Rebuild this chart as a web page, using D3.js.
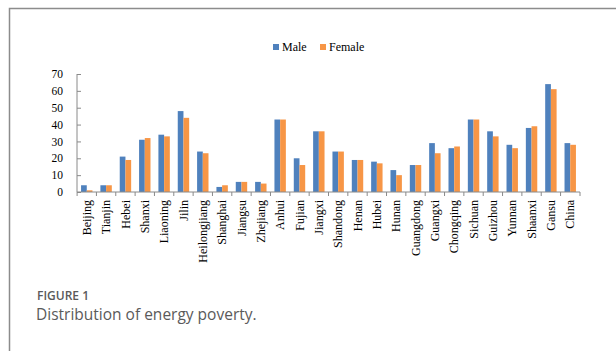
<!DOCTYPE html>
<html>
<head>
<meta charset="utf-8">
<script src="https://cdn.jsdelivr.net/npm/d3@7"></script>
<style>
  html, body { margin: 0; padding: 0; background: #fff; }
  svg { display: block; }
</style>
</head>
<body>
<svg id="chart" width="616" height="351"></svg>
<script>
// Energy poverty by province, split by sex
const provinces = ["Beijing","Tianjin","Hebei","Shanxi","Liaoning","Jilin","Heilongjiang","Shanghai","Jiangsu","Zhejiang","Anhui","Fujian","Jiangxi","Shandong","Henan","Hubei","Hunan","Guangdong","Guangxi","Chongqing","Sichuan","Guizhou","Yunnan","Shaanxi","Gansu","China"];
const maleValues   = [4, 4, 21, 31, 34, 48, 24, 3, 6, 6, 43, 20, 36, 24, 19, 18, 13, 16, 29, 26, 43, 36, 28, 38, 64, 29];
const femaleValues = [1, 4, 19, 32, 33, 44, 23, 4, 6, 5, 43, 16, 36, 24, 19, 17, 10, 16, 23, 27, 43, 33, 26, 39, 61, 28];
const seriesNames = ["Male", "Female"];
const seriesColors = ["#4F81BD", "#F79646"];
const yTicks = [0, 10, 20, 30, 40, 50, 60, 70];

const svg = d3.select("#chart");
const serif = "'Liberation Serif', 'Times New Roman', serif";
const axisColor = "#8a8a8a";

// outer frame
svg.append("path")
  .attr("d", "M9.5,351 V8.5 H616")
  .attr("fill", "none")
  .attr("stroke", "#8c8c8c")
  .attr("stroke-width", 1.5);

const x = d3.scaleBand().domain(provinces).range([77, 580]).paddingInner(0.41).paddingOuter(0.21);
const xs = d3.scaleBand().domain(seriesNames).range([0, x.bandwidth()]);
const y = d3.scaleLinear().domain([0, 70]).range([192, 74]);

const rows = provinces.map((p, i) => ({ p, vals: [maleValues[i], femaleValues[i]] }));

// bars
const groups = svg.append("g").selectAll("g").data(rows).join("g")
  .attr("transform", d => `translate(${x(d.p)},0)`);
groups.selectAll("rect")
  .data(d => d.vals.map((v, k) => ({ v, k })))
  .join("rect")
  .attr("x", d => xs(seriesNames[d.k]))
  .attr("width", xs.bandwidth())
  .attr("y", d => y(d.v))
  .attr("height", d => y(0) - y(d.v))
  .attr("fill", d => seriesColors[d.k]);

// y axis
const yAxis = svg.append("g")
  .attr("transform", `translate(${x.range()[0]},0)`)
  .call(d3.axisLeft(y).tickValues(yTicks).tickSize(-4).tickPadding(14).tickFormat(d3.format("d")));
yAxis.select(".domain").attr("stroke", axisColor).attr("d", `M0,${y(70)}V${y(0)}`);
yAxis.selectAll(".tick line").attr("stroke", axisColor);
yAxis.selectAll(".tick text").attr("font-family", serif).attr("font-size", 11.5).attr("fill", "#000");

// x axis
const x0 = x.range()[0], x1 = x.range()[1];
const xAxis = svg.append("g")
  .attr("transform", `translate(0,${y(0)})`)
  .call(d3.axisBottom(x).tickSize(0).tickPadding(0));
xAxis.select(".domain").attr("stroke", axisColor).attr("d", `M${x0},0H${x1}`);
xAxis.selectAll(".tick text")
  .attr("font-family", serif).attr("font-size", 12).attr("fill", "#000")
  .attr("transform", "rotate(-90)")
  .attr("text-anchor", "end")
  .attr("x", -8).attr("y", 0).attr("dy", "0.35em");

// category boundary ticks
const bounds = provinces.map(p => x(p) - x.step() * x.paddingInner() / 2).concat([x1]);
xAxis.append("g").selectAll("line").data(bounds).join("line")
  .attr("x1", d => d).attr("x2", d => d)
  .attr("y1", 0).attr("y2", 4)
  .attr("stroke", axisColor);

// legend
const legendPos = [273, 320];
const legend = svg.append("g").selectAll("g").data(seriesNames).join("g")
  .attr("transform", (d, i) => `translate(${legendPos[i]},44)`);
legend.append("rect").attr("width", 6).attr("height", 6).attr("fill", (d, i) => seriesColors[i]);
legend.append("text").attr("x", 9).attr("y", 7)
  .attr("font-family", serif).attr("font-size", 12).attr("fill", "#000")
  .text(d => d);

// caption
svg.append("text").attr("x", 37).attr("y", 299.5)
  .attr("font-family", "'Open Sans', sans-serif").attr("font-size", 12).attr("font-weight", 600)
  .attr("fill", "#5a5a5a").text("FIGURE 1");
svg.append("text").attr("x", 36).attr("y", 320)
  .attr("font-family", "'Open Sans', sans-serif").attr("font-size", 15.5)
  .attr("fill", "#5a5a5a").text("Distribution of energy poverty.");
</script>
</body>
</html>
